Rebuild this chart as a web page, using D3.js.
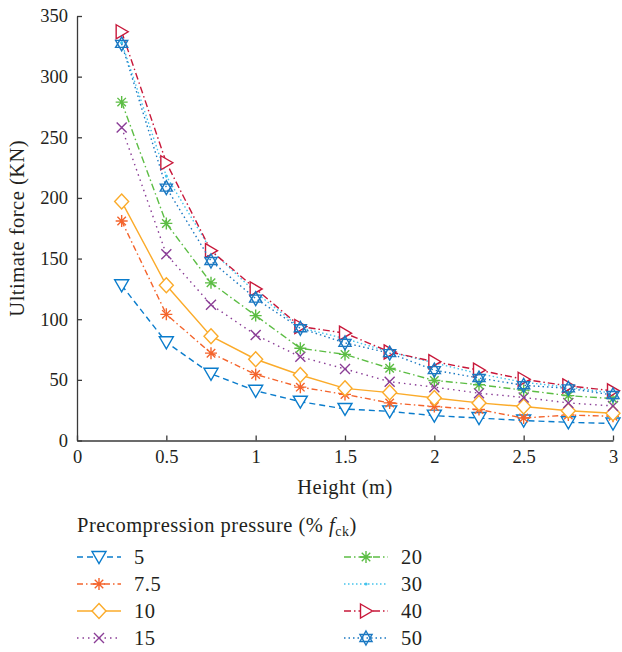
<!DOCTYPE html>
<html>
<head>
<meta charset="utf-8">
<script src="https://cdn.jsdelivr.net/npm/d3@7"></script>
<style>
  body { margin: 0; background: #fff; }
  text { font-family: "Liberation Serif", "DejaVu Serif", serif; fill: #231f20; }
  .lbl { font-size: 20.5px; letter-spacing: 0.5px; }
</style>
</head>
<body>
<div id="chart"></div>
<script>
// heights (m)
const heights = [0.25, 0.5, 0.75, 1.0, 1.25, 1.5, 1.75, 2.0, 2.25, 2.5, 2.75, 3.0];

// ultimate force (KN) per precompression level
const p5   = [128, 81, 55, 41, 32, 26, 24, 20.5, 18.5, 16.5, 15, 14];
const p7_5 = [181, 104, 72, 54.5, 44, 38, 31, 28, 25.5, 18.5, 21, 20];
const p10  = [197, 128, 86, 67, 54, 43, 39.5, 35, 31, 28, 24.5, 22.5];
const p15  = [258, 153.5, 112, 87, 69, 59, 48.5, 44, 39, 35.5, 31, 28.5];
const p20  = [279, 179, 130, 103, 76, 71, 59.5, 49.5, 46, 41.5, 37, 34.5];
const p30  = [328, 218, 157, 122, 93, 84, 73, 64, 55, 48, 44, 39];
const p40  = [337, 229, 156.5, 125, 94, 88.5, 73, 65, 58, 50.5, 45, 41];
const p50  = [327, 208.5, 148, 117, 92.5, 80.5, 72, 58, 51.5, 45.5, 43, 37.5];

const seriesNames = ["5", "7.5", "10", "15", "20", "30", "40", "50"];
const seriesValues = [p5, p7_5, p10, p15, p20, p30, p40, p50];

const yTicks = [0, 50, 100, 150, 200, 250, 300, 350];
const xTicks = [0, 0.5, 1, 1.5, 2, 2.5, 3];

const styles = {
  "5":   {color: "#0a7ccc", dash: "6,4",         marker: "triDown"},
  "7.5": {color: "#f4642c", dash: "6,3,1.5,3",   marker: "asterisk"},
  "10":  {color: "#fbab2a", dash: null,          marker: "diamond"},
  "15":  {color: "#8a3d96", dash: "1.5,4",       marker: "cross"},
  "20":  {color: "#5cbd44", dash: "7,3,1.5,3",   marker: "asterisk"},
  "30":  {color: "#44c3ec", dash: "1.5,2.5",     marker: "dot"},
  "40":  {color: "#c8183a", dash: "7,3,1.5,3",   marker: "triRight"},
  "50":  {color: "#1a78c2", dash: "1.5,3",       marker: "hexagram"}
};

const W = 622, H = 652;
const svg = d3.select("#chart").append("svg")
  .attr("width", W).attr("height", H);

const x = d3.scaleLinear().domain([0, 3]).range([77, 613]);
const y = d3.scaleLinear().domain([0, 350]).range([440.5, 16]);

// axes
const xAxis = svg.append("g")
  .attr("transform", "translate(0," + y(0) + ")")
  .call(d3.axisBottom(x).tickValues(xTicks).tickFormat(d => String(d))
    .tickSizeInner(-5).tickSizeOuter(0).tickPadding(9));
const yAxis = svg.append("g")
  .attr("transform", "translate(" + x(0) + ",0)")
  .call(d3.axisLeft(y).tickValues(yTicks).tickFormat(d => String(d))
    .tickSizeInner(-5).tickSizeOuter(0).tickPadding(9));
[xAxis, yAxis].forEach(a => {
  a.selectAll("path, line").attr("stroke", "#3a3a3a").attr("stroke-width", 1.3);
  a.selectAll("text").style("font-size", "18.5px")
    .style("font-family", "'Liberation Serif', serif").attr("fill", "#231f20");
});

svg.append("text").attr("class", "lbl")
  .attr("x", (x(0) + x(3)) / 2).attr("y", 494)
  .attr("text-anchor", "middle")
  .text("Height (m)");
svg.append("text").attr("class", "lbl")
  .attr("transform", "translate(24," + (y(175)) + ") rotate(-90)")
  .attr("text-anchor", "middle")
  .text("Ultimate force (KN)");

// marker shapes
function drawMarker(g, type, cx, cy, color) {
  const s = g.append("g").attr("transform", "translate(" + cx + "," + cy + ")")
    .attr("fill", "none").attr("stroke", color).attr("stroke-width", 1.4);
  if (type === "triDown") {
    s.append("path").attr("d", "M-7,-5.5L7,-5.5L0,6.5Z").attr("fill", "#fff");
  } else if (type === "triRight") {
    s.append("path").attr("d", "M-5.5,-7L6.5,0L-5.5,7Z").attr("fill", "#fff");
  } else if (type === "diamond") {
    s.append("path").attr("d", "M0,-7.5L7,0L0,7.5L-7,0Z").attr("fill", "#fff");
  } else if (type === "asterisk") {
    const r = 6, d = r * 0.707;
    s.append("path").attr("d",
      `M${-r},0L${r},0M0,${-r}L0,${r}M${-d},${-d}L${d},${d}M${-d},${d}L${d},${-d}`);
  } else if (type === "cross") {
    const r = 5;
    s.append("path").attr("d", `M${-r},${-r}L${r},${r}M${-r},${r}L${r},${-r}`);
  } else if (type === "dot") {
    s.append("circle").attr("r", 1.6).attr("fill", color).attr("stroke", "none");
  } else if (type === "hexagram") {
    const r = 7, h = r * 0.5, w = r * 0.866;
    s.append("path").attr("d",
      `M0,${-r}L${w},${h}L${-w},${h}Z M0,${r}L${w},${-h}L${-w},${-h}Z`);
  }
}

const line = d3.line().x((d, i) => x(heights[i])).y(d => y(d));

seriesNames.forEach((name, k) => {
  const st = styles[name];
  const vals = seriesValues[k];
  const g = svg.append("g");
  g.append("path").datum(vals)
    .attr("d", line)
    .attr("fill", "none")
    .attr("stroke", st.color)
    .attr("stroke-width", 1.4)
    .attr("stroke-dasharray", st.dash);
  vals.forEach((v, i) => drawMarker(g, st.marker, x(heights[i]), y(v), st.color));
});

// legend
const title = svg.append("text").attr("class", "lbl").attr("x", 77).attr("y", 532);
title.append("tspan").text("Precompression pressure (% ");
title.append("tspan").style("font-style", "italic").text("f");
title.append("tspan").attr("dy", 4).style("font-size", "14px").text("ck");
title.append("tspan").attr("dy", -4).text(")");

const rowY = [557, 584, 611, 638];
seriesNames.forEach((name, k) => {
  const st = styles[name];
  const col = k < 4 ? 0 : 1;
  const row = k < 4 ? k : k - 4;
  const x0 = col === 0 ? 77 : 344;
  const yy = rowY[row];
  const g = svg.append("g");
  g.append("line")
    .attr("x1", x0).attr("x2", x0 + 44).attr("y1", yy).attr("y2", yy)
    .attr("stroke", st.color).attr("stroke-width", 1.4)
    .attr("stroke-dasharray", st.dash);
  drawMarker(g, st.marker, x0 + 22, yy, st.color);
  g.append("text").attr("class", "lbl").attr("x", x0 + 57).attr("y", yy + 7)
    .text(name);
});
</script>
</body>
</html>
